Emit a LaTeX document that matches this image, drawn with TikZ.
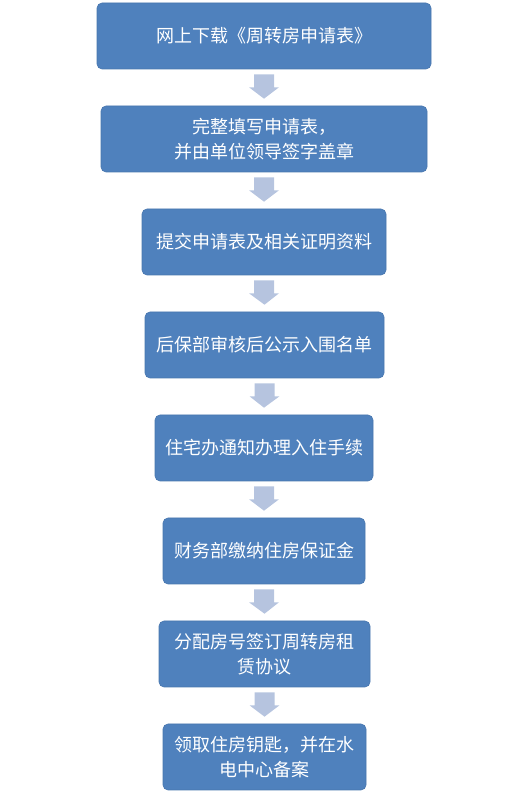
\documentclass[tikz,border=0pt]{standalone}
\usepackage{fontspec}
\setmainfont{Noto Sans CJK SC}
\usetikzlibrary{calc}
\definecolor{boxblue}{RGB}{79,129,189}
\definecolor{boxedge}{RGB}{72,118,174}
\definecolor{arrowblue}{RGB}{182,196,223}
\tikzset{
  flowbox/.style={rectangle, rounded corners=5pt, fill=boxblue, draw=boxedge, line width=0.6pt,
    text=white, align=center, inner sep=0pt, minimum height=66pt,
    font=\fontsize{18}{25}\selectfont},
  arrowfill/.style={fill=arrowblue}
}
\newcommand{\blockarrow}[2]{%
  \fill[arrowfill] ($(#1.south)+(-10pt,-5pt)$) -- ($(#1.south)+(10pt,-5pt)$)
    -- ($(#1.south)+(10pt,-18pt)$) -- ($(#1.south)+(15pt,-18pt)$)
    -- ($(#2.north)+(0,7pt)$)
    -- ($(#1.south)+(-15pt,-18pt)$) -- ($(#1.south)+(-10pt,-18pt)$) -- cycle;}
\begin{document}
\begin{tikzpicture}[x=1pt,y=1pt]
\useasboundingbox (0,0) rectangle (529,792);
\node[flowbox, minimum width=334pt] (b1) at (264,756) {网上下载《周转房申请表》};
\node[flowbox, minimum width=326pt] (b2) at (264,653) {完整填写申请表，\\并由单位领导签字盖章};
\node[flowbox, minimum width=244pt] (b3) at (264,550) {提交申请表及相关证明资料};
\node[flowbox, minimum width=239pt] (b4) at (264.5,447) {后保部审核后公示入围名单};
\node[flowbox, minimum width=218pt] (b5) at (264,344) {住宅办通知办理入住手续};
\node[flowbox, minimum width=202pt] (b6) at (264,241) {财务部缴纳住房保证金};
\node[flowbox, minimum width=211pt] (b7) at (264.5,138) {分配房号签订周转房租\\赁协议};
\node[flowbox, minimum width=203pt] (b8) at (264.5,35) {领取住房钥匙，并在水\\电中心备案};
\blockarrow{b1}{b2}
\blockarrow{b2}{b3}
\blockarrow{b3}{b4}
\blockarrow{b4}{b5}
\blockarrow{b5}{b6}
\blockarrow{b6}{b7}
\blockarrow{b7}{b8}
\end{tikzpicture}
\end{document}
